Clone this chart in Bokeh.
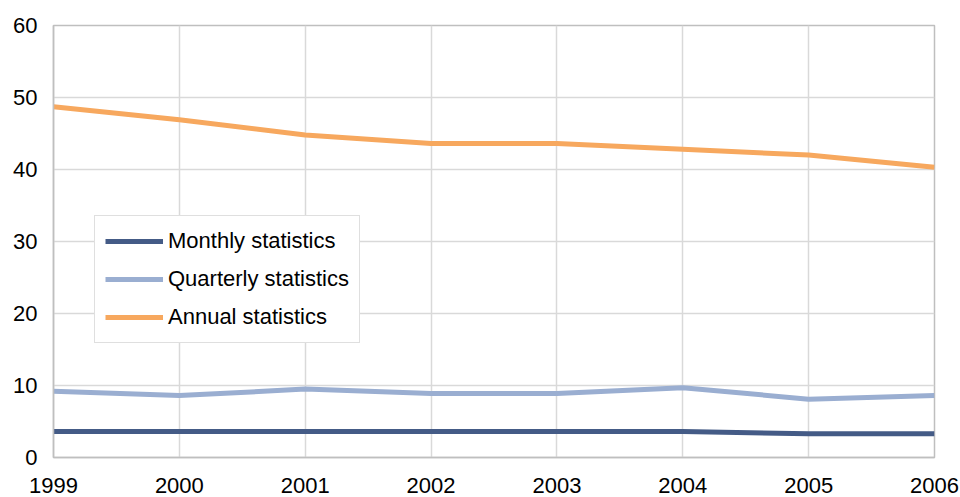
from bokeh.plotting import figure
from bokeh.models import Range1d, Legend, LegendItem, FixedTicker
from bokeh.embed import file_html
from bokeh.resources import INLINE

years = [1999, 2000, 2001, 2002, 2003, 2004, 2005, 2006]
monthly = [3.6, 3.6, 3.6, 3.6, 3.6, 3.6, 3.3, 3.3]
quarterly = [9.2, 8.6, 9.5, 8.9, 8.9, 9.7, 8.1, 8.6]
annual = [48.7, 46.9, 44.8, 43.6, 43.6, 42.8, 42.0, 40.3]
y_ticks = [0, 10, 20, 30, 40, 50, 60]
series_names = ["Monthly statistics", "Quarterly statistics", "Annual statistics"]

FONT = "Liberation Sans"
GRID = "#D9D9D9"
BORDER = "#BFBFBF"

p = figure(width=960, height=497, output_backend="svg", toolbar_location=None,
           x_range=Range1d(1999, 2006), y_range=Range1d(0, 60),
           min_border_left=53, min_border_right=26, min_border_top=25, min_border_bottom=40)
p.frame_width = 881
p.frame_height = 432

p.outline_line_color = BORDER
p.outline_line_width = 1.5
p.background_fill_color = "white"
p.border_fill_color = "white"

for ax in (p.xaxis[0], p.yaxis[0]):
    ax.axis_line_color = BORDER
    ax.axis_line_width = 1.5
    ax.major_tick_line_color = None
    ax.minor_tick_line_color = None
    ax.major_label_text_font = FONT
    ax.major_label_text_font_size = "22px"
    ax.major_label_text_color = "#000000"

p.xaxis[0].ticker = FixedTicker(ticks=years)
p.yaxis[0].ticker = FixedTicker(ticks=y_ticks)
p.xaxis[0].major_label_standoff = 14
p.yaxis[0].major_label_standoff = 10

p.xgrid[0].ticker = FixedTicker(ticks=years)
p.ygrid[0].ticker = FixedTicker(ticks=y_ticks)
for g in (p.xgrid[0], p.ygrid[0]):
    g.grid_line_color = GRID
    g.grid_line_width = 1.5

colors = ["#445B86", "#9AAED1", "#F7A85E"]
renderers = []
for vals, c in zip([monthly, quarterly, annual], colors):
    r = p.line(years, vals, line_color=c, line_width=5, line_join="round", line_cap="butt")
    renderers.append(r)

legend = Legend(items=[LegendItem(label=n, renderers=[r]) for n, r in zip(series_names, renderers)],
                location=(41, 114))
legend.label_text_font = FONT
legend.label_text_font_size = "22px"
legend.label_text_color = "#000000"
legend.border_line_color = BORDER
legend.border_line_width = 1.5
legend.background_fill_alpha = 1
legend.padding = 10
legend.margin = 0
legend.spacing = 8
legend.glyph_width = 58
legend.glyph_height = 30
legend.label_height = 30
legend.label_standoff = 5
p.add_layout(legend, "center")

open("out.html", "w").write(file_html(p, INLINE))
